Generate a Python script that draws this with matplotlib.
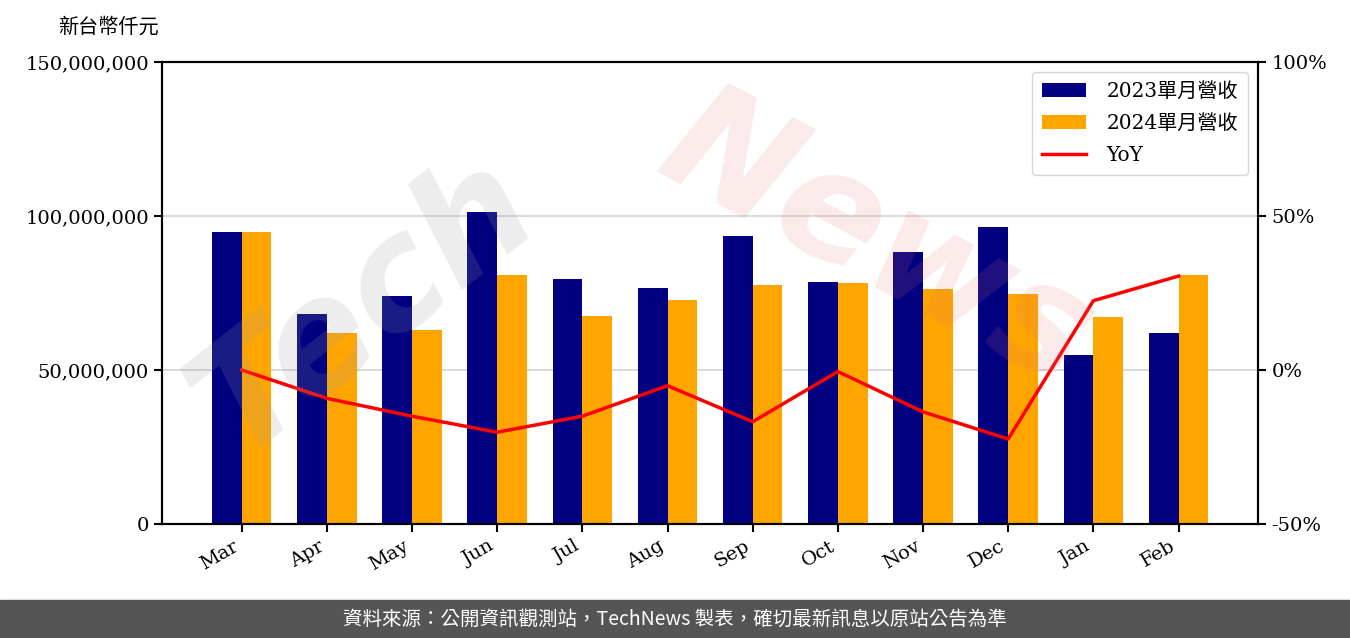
import matplotlib
matplotlib.use("Agg")
import matplotlib.pyplot as plt
from matplotlib.ticker import FuncFormatter
import numpy as np

plt.rcParams['font.family'] = ['DejaVu Serif', 'Noto Sans CJK TC']

months = ["Mar", "Apr", "May", "Jun", "Jul", "Aug", "Sep", "Oct", "Nov", "Dec", "Jan", "Feb"]
# 單月營收, millions of 新台幣仟元
rev_2023 = [94.8, 68.2, 74.0, 101.3, 79.5, 76.6, 93.5, 78.6, 88.3, 96.4, 54.9, 62.0]
rev_2024 = [94.8, 62.0, 63.0, 80.8, 67.5, 72.7, 77.6, 78.2, 76.3, 74.7, 67.2, 80.8]
# YoY in percent
yoy = [0.0, -9.2, -15.0, -20.2, -15.0, -5.1, -16.8, -0.5, -13.6, -22.4, 22.5, 30.5]

rev_2023 = np.array(rev_2023) * 1e6
rev_2024 = np.array(rev_2024) * 1e6
yoy = np.array(yoy) / 100

fig = plt.figure(figsize=(13.5, 6.38), dpi=100)
ax = fig.add_axes([0.12, 0.1787, 0.812, 0.7241])

x = np.arange(len(months))
w = 0.35
b1 = ax.bar(x - w / 2, rev_2023, w, color="#000080", label="2023單月營收", zorder=2)
b2 = ax.bar(x + w / 2, rev_2024, w, color="#FFA500", label="2024單月營收", zorder=2)
ax.set_ylim(0, 150e6)
ax.set_yticks([0, 50e6, 100e6, 150e6])
ax.yaxis.set_major_formatter(FuncFormatter(lambda v, p: f"{int(v):,}"))
ax.grid(axis="y", color="#d3d3d3", linewidth=1.2, zorder=0)
ax.set_axisbelow(True)
ax.set_xticks(x)
ax.set_xticklabels(months, rotation=30, ha="right")
ax.tick_params(labelsize=14, width=1.5, length=6)
for s in ax.spines.values():
    s.set_linewidth(1.5)

ax2 = ax.twinx()
l1, = ax2.plot(x, yoy, color="red", linewidth=2.5, label="YoY")
ax2.set_ylim(-0.5, 1.0)
ax2.set_yticks([-0.5, 0, 0.5, 1.0])
ax2.yaxis.set_major_formatter(FuncFormatter(lambda v, p: f"{v * 100:.0f}%"))
ax2.tick_params(labelsize=14, width=1.5, length=6)
for s in ax2.spines.values():
    s.set_linewidth(1.5)

ax2.legend([b1, b2, l1], ["2023單月營收", "2024單月營收", "YoY"],
           loc="upper right", fontsize=14.5, labelspacing=0.65,
           handlelength=2.2, handletextpad=1.0, borderpad=0.5)

fig.text(0.043, 0.958, "新台幣仟元", fontsize=14.5, ha="left", va="center",
         family=['Noto Sans CJK TC'])

# watermark
fig.text(0.27, 0.52, "Tech", fontsize=110, color="#9a9a9a", alpha=0.18,
         rotation=38, ha="center", va="center", style="italic",
         family=['DejaVu Sans'], fontweight="bold")
fig.text(0.65, 0.62, "News", fontsize=110, color="#e07070", alpha=0.15,
         rotation=-28, ha="center", va="center", style="italic",
         family=['DejaVu Sans'], fontweight="bold")

# footer band
fig.patches.append(plt.Rectangle((0, 0), 1, 38 / 638, transform=fig.transFigure,
                                 color="#555555", zorder=0))
fig.text(0.5, 19 / 638, "資料來源：公開資訊觀測站，TechNews 製表，確切最新訊息以原站公告為準",
         color="white", fontsize=14, ha="center", va="center",
         family=['Noto Sans CJK TC', 'DejaVu Sans'])

fig.savefig("out.png", dpi=100)
